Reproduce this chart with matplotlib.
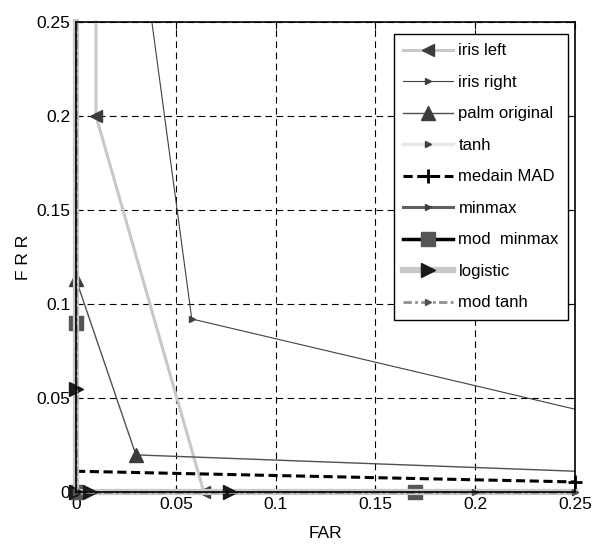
import numpy as np
import matplotlib
matplotlib.use('Agg')
import matplotlib.pyplot as plt

plt.rcParams['font.family'] = ['Liberation Sans Narrow', 'Liberation Sans', 'DejaVu Sans']

# FAR / FRR operating points for each score normalisation
iris_left_far = [0.01, 0.01, 0.064]
iris_left_frr = [0.25, 0.2, 0.0]

iris_right_far = [0.038, 0.058, 0.25]
iris_right_frr = [0.25, 0.092, 0.044]

palm_far = [0.0, 0.03, 0.25]
palm_frr = [0.113, 0.0197, 0.011]

tanh_far = [0.0, 0.0, 0.25]
tanh_frr = [0.25, 0.0, 0.0]

mad_far = [0.0, 0.25]
mad_frr = [0.011, 0.0053]

minmax_far = [0.0, 0.0, 0.25]
minmax_frr = [0.25, 0.0, 0.0]

modminmax_far = [0.0, 0.0, 0.0, 0.17, 0.25]
modminmax_frr = [0.25, 0.09, 0.0, 0.0, 0.0]

logistic_far = [0.0, 0.0, 0.0, 0.007, 0.077, 0.25]
logistic_frr = [0.25, 0.055, 0.0, 0.0, 0.0, 0.0]

modtanh_far = [0.0, 0.0, 0.2, 0.25]
modtanh_frr = [0.25, 0.0, 0.0, 0.0]

ticks = [0, 0.05, 0.1, 0.15, 0.2, 0.25]
tick_labels = ['0', '0.05', '0.1', '0.15', '0.2', '0.25']

fig = plt.figure(figsize=(5.94, 5.49), dpi=100)
ax = fig.add_axes([0.128, 0.104, 0.84, 0.856])

kw = dict(clip_on=False)
ax.plot(iris_left_far, iris_left_frr, color='#c8c8c8', lw=2.2, marker='<',
        ms=9, mfc='#3c3c3c', mec='#3c3c3c', markevery=[1, 2], label='iris left', **kw)
ax.plot(iris_right_far, iris_right_frr, color='#404040', lw=0.8, marker='>',
        ms=5, mfc='#404040', mec='#404040', markevery=[1], label='iris right', **kw)
ax.plot(palm_far, palm_frr, color='#505050', lw=1.0, marker='^',
        ms=10, mfc='#3c3c3c', mec='#3c3c3c', markevery=[0, 1], label='palm original', **kw)
ax.plot(tanh_far, tanh_frr, color='#e8e8e8', lw=2.5, marker='>',
        ms=5, mfc='#404040', mec='#404040', markevery=[1], label='tanh', **kw)
ax.plot(mad_far, mad_frr, color='black', lw=2.2, ls=(0, (3, 1.5)), marker='+',
        ms=10, mew=2, mfc='black', mec='black', markevery=[1], label='medain MAD', **kw)
ax.plot(minmax_far, minmax_frr, color='#606060', lw=2.2, marker='>',
        ms=5, mfc='#404040', mec='#404040', markevery=[1, 2], label='minmax', **kw)
ax.plot(modminmax_far, modminmax_frr, color='black', lw=2.5, marker='s',
        ms=10, mfc='#555555', mec='#555555', markevery=[1, 2, 3], label='mod  minmax', **kw)
ax.plot(logistic_far, logistic_frr, color='#c8c8c8', lw=4.5, marker='>',
        ms=10, mfc='#1a1a1a', mec='#1a1a1a', markevery=[1, 2, 3, 4], label='logistic', **kw)
ax.plot(modtanh_far, modtanh_frr, color='#909090', lw=2.0, ls=(0, (3, 1.2, 1, 1.2)), marker='>',
        ms=5, mfc='#505050', mec='#505050', markevery=[1, 2, 3], label='mod tanh', **kw)

ax.set_xlim(0, 0.25)
ax.set_ylim(0, 0.25)
ax.set_xticks(ticks)
ax.set_xticklabels(tick_labels)
ax.set_yticks(ticks)
ax.set_yticklabels(tick_labels)
ax.tick_params(direction='in', top=True, right=True, labelsize=12.5, length=5, pad=4)
ax.grid(True, color='black', ls=(0, (6, 4)), lw=0.8)
for s in ax.spines.values():
    s.set_linewidth(1.2)
    s.set_color('black')

ax.set_xlabel('FAR', fontsize=12.5, labelpad=10)
ax.set_ylabel('F R R', fontsize=12.5, labelpad=4)

leg = ax.legend(loc='upper right', fontsize=12, handlelength=3.0, labelspacing=0.99,
                borderpad=0.55, handletextpad=0.3, borderaxespad=0, fancybox=False,
                framealpha=1, edgecolor='black', bbox_to_anchor=(0.986, 0.974))
leg.get_frame().set_linewidth(1.0)

fig.savefig('out.png', dpi=100)
